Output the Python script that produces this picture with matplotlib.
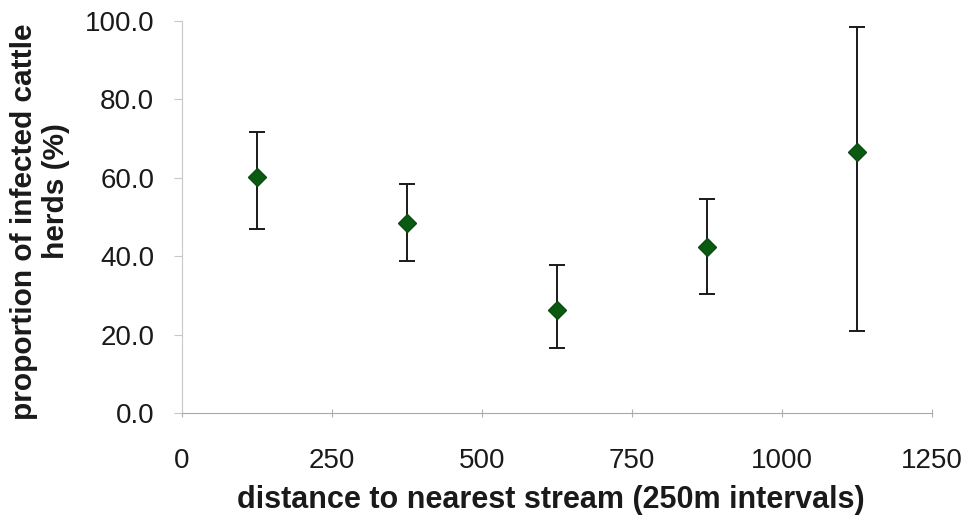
import numpy as np
import matplotlib.pyplot as plt

# Data
distance = [125, 375, 625, 875, 1125]
proportion = [60.1, 48.5, 26.3, 42.3, 66.6]
upper = [71.6, 58.4, 37.8, 54.6, 98.4]
lower = [46.9, 38.9, 16.5, 30.4, 20.8]

x_ticks = [0, 250, 500, 750, 1000, 1250]
y_ticks = [0, 20, 40, 60, 80, 100]

plt.rcParams['font.family'] = ['Liberation Sans', 'DejaVu Sans']

prop = np.array(proportion)
yerr = [prop - np.array(lower), np.array(upper) - prop]

fig = plt.figure(figsize=(9.64, 5.23), dpi=100)
ax = fig.add_axes([0.1888, 0.2103, 0.778, 0.7495])

ax.errorbar(distance, proportion, yerr=yerr, fmt='D', color='#0b5a12',
            markersize=9, ecolor='#1a1a1a', elinewidth=1.4, capsize=6,
            capthick=1.4, markeredgecolor='#0b4d10')

ax.set_xlim(0, 1250)
ax.set_ylim(0, 100)
ax.set_xticks(x_ticks)
ax.set_yticks(y_ticks)
ax.set_yticklabels(['%.1f' % v for v in y_ticks])

for side in ['top', 'right']:
    ax.spines[side].set_visible(False)
ax.spines['left'].set_color('#c8c8c8')
ax.spines['bottom'].set_color('#a8a8a8')
ax.tick_params(axis='y', colors='#c8c8c8', labelcolor='#1a1a1a',
               labelsize=20, length=6, pad=14)
ax.tick_params(axis='x', colors='#b0b0b0', labelcolor='#1a1a1a',
               labelsize=20, direction='inout', length=6, pad=22)

# axis titles (the y title's second line sits off-centre in the original)
fig.text(551 / 964, 0.044, 'distance to nearest stream (250m intervals)',
         fontsize=22, fontweight='bold', color='#1a1a1a',
         ha='center', va='center')
fig.text(24 / 964, 0.5755, 'proportion of infected cattle', rotation=90,
         fontsize=21.5, fontweight='bold', color='#1a1a1a',
         ha='center', va='center')
fig.text(56 / 964, 0.635, 'herds (%)', rotation=90,
         fontsize=21.5, fontweight='bold', color='#1a1a1a',
         ha='center', va='center')

fig.savefig('out.png', dpi=100)
